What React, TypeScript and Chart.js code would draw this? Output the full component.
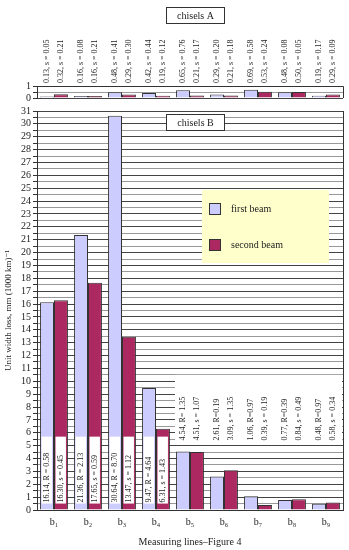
import React, { useEffect, useRef } from 'react';
import { Chart, registerables } from 'chart.js';

Chart.register(...registerables);

const categories = ['b₁', 'b₂', 'b₃', 'b₄', 'b₅', 'b₆', 'b₇', 'b₈', 'b₉'];
const chiselsAFirst = [0.13, 0.16, 0.48, 0.42, 0.65, 0.29, 0.69, 0.48, 0.19];
const chiselsAFirstS = [0.05, 0.08, 0.41, 0.44, 0.76, 0.2, 0.58, 0.08, 0.17];
const chiselsASecond = [0.32, 0.16, 0.29, 0.19, 0.21, 0.21, 0.53, 0.5, 0.29];
const chiselsASecondS = [0.21, 0.21, 0.3, 0.12, 0.17, 0.18, 0.24, 0.05, 0.09];
const chiselsBFirst = [16.14, 21.36, 30.64, 9.47, 4.54, 2.61, 1.06, 0.77, 0.48];
const chiselsBFirstR = [0.58, 2.13, 8.7, 4.64, 1.35, 0.19, 0.97, 0.39, 0.97];
const chiselsBSecond = [16.3, 17.65, 13.47, 6.31, 4.51, 3.09, 0.39, 0.84, 0.58];
const chiselsBSecondS = [0.45, 0.59, 1.12, 1.43, 1.07, 1.35, 0.19, 0.49, 0.34];
const seriesNames = ['first beam', 'second beam'];
const yMaxA = 1;
const yMaxB = 31;

const FONT = '"Liberation Serif", "DejaVu Serif", serif';
const FIRST_COLOR = '#CCCCFF';
const SECOND_COLOR = '#AC2860';
const EDGE = '#333333';

const fmt = (v: number) => v.toFixed(2);
const labelsA = [
  chiselsAFirst.map((v, i) => `${fmt(v)}, s = ${fmt(chiselsAFirstS[i])}`),
  chiselsASecond.map((v, i) => `${fmt(v)}, s = ${fmt(chiselsASecondS[i])}`),
];
const labelsB = [
  chiselsBFirst.map((v, i) => `${fmt(v)}, ${i < 4 ? 'R = ' : i === 4 ? 'R= ' : 'R='}${fmt(chiselsBFirstR[i])}`),
  chiselsBSecond.map((v, i) => `${fmt(v)}, s = ${fmt(chiselsBSecondS[i])}`),
];

function drawRotated(ctx: CanvasRenderingContext2D, text: string, x: number, y: number, size: number) {
  ctx.save();
  ctx.translate(x, y);
  ctx.rotate(-Math.PI / 2);
  ctx.font = `${size}px ${FONT}`;
  ctx.fillStyle = '#222';
  ctx.textAlign = 'left';
  ctx.textBaseline = 'middle';
  ctx.fillText(text, 0, 0);
  ctx.restore();
}

function drawBox(ctx: CanvasRenderingContext2D, text: string, x0: number, y0: number, x1: number, y1: number) {
  ctx.save();
  ctx.fillStyle = '#fff';
  ctx.fillRect(x0, y0, x1 - x0, y1 - y0);
  ctx.strokeStyle = EDGE;
  ctx.lineWidth = 1;
  ctx.strokeRect(x0 + 0.5, y0 + 0.5, x1 - x0 - 1, y1 - y0 - 1);
  ctx.fillStyle = '#222';
  ctx.font = `10px ${FONT}`;
  ctx.textAlign = 'center';
  ctx.textBaseline = 'middle';
  ctx.fillText(text, (x0 + x1) / 2, (y0 + y1) / 2 + 0.5);
  ctx.restore();
}

const gridColor = (c: any) => (c.tick && Number.isInteger(c.tick.value) ? '#444' : '#999');

const pluginA = {
  id: 'annotA',
  afterDraw(chart: any) {
    const { ctx, chartArea } = chart;
    ctx.save();
    ctx.strokeStyle = EDGE;
    ctx.lineWidth = 1;
    ctx.beginPath();
    ctx.moveTo(chartArea.left, Math.round(chartArea.top) + 0.5);
    ctx.lineTo(Math.round(chartArea.right) + 0.5, Math.round(chartArea.top) + 0.5);
    ctx.lineTo(Math.round(chartArea.right) + 0.5, chartArea.bottom);
    ctx.stroke();
    ctx.restore();
    [0, 1].forEach((d) => {
      const meta = chart.getDatasetMeta(d);
      meta.data.forEach((bar: any, j: number) => {
        drawRotated(ctx, labelsA[d][j], bar.x, 83, 8);
      });
    });
    drawBox(ctx, 'chisels A', 166, 7, 225, 24);
  },
};

const pluginB = {
  id: 'annotB',
  afterDatasetsDraw(chart: any) {
    const { ctx, chartArea, scales } = chart;
    const xs = scales.x;
    const ys = scales.y;
    const cat = xs.getPixelForValue(1) - xs.getPixelForValue(0);
    ctx.save();
    // white label area for b5..b9
    ctx.fillStyle = '#fff';
    const rx0 = xs.getPixelForValue(4) - cat / 2 + 2;
    const ry0 = ys.getPixelForValue(10.5);
    const ry1 = ys.getPixelForValue(5.1);
    ctx.fillRect(rx0, ry0, chartArea.right - 1 - rx0, ry1 - ry0);
    // white boxes inside bars b1..b4
    [0, 1].forEach((d) => {
      const meta = chart.getDatasetMeta(d);
      for (let j = 0; j < 4; j++) {
        const bar = meta.data[j];
        const y0 = ys.getPixelForValue(5.7);
        const y1 = ys.getPixelForValue(0.5);
        ctx.fillRect(bar.x - bar.width / 2 + 1.5, y0, bar.width - 3.5, y1 - y0);
      }
    });
    // right border
    ctx.strokeStyle = EDGE;
    ctx.lineWidth = 1;
    ctx.beginPath();
    ctx.moveTo(Math.round(chartArea.right) + 0.5, chartArea.top);
    ctx.lineTo(Math.round(chartArea.right) + 0.5, chartArea.bottom);
    ctx.stroke();
    ctx.restore();
    // labels
    [0, 1].forEach((d) => {
      const meta = chart.getDatasetMeta(d);
      meta.data.forEach((bar: any, j: number) => {
        const yb = j < 4 ? ys.getPixelForValue(0.5) - 1 : ys.getPixelForValue(5.4);
        drawRotated(ctx, labelsB[d][j], bar.x, yb, 8);
      });
    });
    // legend
    ctx.save();
    ctx.fillStyle = '#FFFFCC';
    ctx.fillRect(202, 190, 127, 73);
    [FIRST_COLOR, SECOND_COLOR].forEach((c, i) => {
      const sy = 203 + i * 36;
      ctx.fillStyle = c;
      ctx.fillRect(209, sy, 12, 12);
      ctx.strokeStyle = EDGE;
      ctx.strokeRect(209.5, sy + 0.5, 11, 11);
      ctx.fillStyle = '#222';
      ctx.font = `10px ${FONT}`;
      ctx.textAlign = 'left';
      ctx.textBaseline = 'middle';
      ctx.fillText(seriesNames[i], 231, sy + 6.5);
    });
    ctx.restore();
    drawBox(ctx, 'chisels B', 166, 114, 225, 131);
  },
};

function fixY(width: number) {
  return (scale: any) => {
    scale.width = width;
    scale.paddingTop = 0;
    scale.paddingBottom = 0;
  };
}

function fixX(height: number) {
  return (scale: any) => {
    scale.height = height;
    scale.paddingLeft = 0;
    scale.paddingRight = 0;
  };
}

function datasets(a: number[], b: number[]) {
  return [
    { label: seriesNames[0], data: a, backgroundColor: FIRST_COLOR, borderColor: EDGE, borderWidth: 1 },
    { label: seriesNames[1], data: b, backgroundColor: SECOND_COLOR, borderColor: EDGE, borderWidth: 1 },
  ];
}

export default function App() {
  const refA = useRef<HTMLCanvasElement>(null);
  const refB = useRef<HTMLCanvasElement>(null);

  useEffect(() => {
    const tickFont = { family: FONT, size: 10 };
    const chartB = new Chart(refB.current!, {
      type: 'bar',
      data: { labels: categories, datasets: datasets(chiselsBFirst, chiselsBSecond) as any },
      options: {
        animation: false,
        responsive: false,
        maintainAspectRatio: false,
        layout: { padding: { top: 111, right: 6, left: 0, bottom: 0 } },
        datasets: { bar: { categoryPercentage: 0.82, barPercentage: 1 } },
        plugins: { legend: { display: false }, tooltip: { enabled: false } },
        scales: {
          x: {
            grid: { display: false, drawTicks: false },
            border: { display: true, color: EDGE },
            ticks: { font: tickFont, color: '#222', padding: 6, maxRotation: 0 },
            title: { display: true, text: 'Measuring lines–Figure 4', font: tickFont, color: '#222', padding: { top: 0, bottom: 2 } },
            afterFit: fixX(40),
          },
          y: {
            min: 0,
            max: yMaxB,
            grid: { color: gridColor, drawTicks: true, tickLength: 4, tickColor: EDGE },
            border: { display: true, color: EDGE },
            ticks: {
              stepSize: 0.5,
              autoSkip: false,
              font: tickFont,
              color: '#222',
              padding: 2,
              callback: (v: any) => (Number.isInteger(v) ? String(v) : ''),
            },
            title: { display: true, text: 'Unit width loss, mm (1000 km)⁻¹', font: { family: FONT, size: 9 }, color: '#222', padding: { top: 3, bottom: 0 } },
            afterFit: fixY(37),
          },
        },
      },
      plugins: [pluginB],
    });

    const chartA = new Chart(refA.current!, {
      type: 'bar',
      data: { labels: categories, datasets: datasets(chiselsAFirst, chiselsASecond) as any },
      options: {
        animation: false,
        responsive: false,
        maintainAspectRatio: false,
        layout: { padding: { top: 86, right: 6, left: 0, bottom: 6 } },
        datasets: { bar: { categoryPercentage: 0.82, barPercentage: 1 } },
        plugins: { legend: { display: false }, tooltip: { enabled: false } },
        scales: {
          x: { display: false },
          y: {
            min: 0,
            max: yMaxA,
            grid: { color: gridColor, drawTicks: true, tickLength: 4, tickColor: EDGE },
            border: { display: true, color: EDGE },
            ticks: {
              stepSize: 0.5,
              autoSkip: false,
              font: tickFont,
              color: '#222',
              padding: 2,
              callback: (v: any) => (Number.isInteger(v) ? String(v) : ''),
            },
            afterFit: fixY(37),
          },
        },
      },
      plugins: [pluginA],
    });

    return () => {
      chartA.destroy();
      chartB.destroy();
    };
  }, []);

  return (
    <div style={{ position: 'absolute', left: 0, top: 0, width: 349, height: 550, background: '#fff' }}>
      <canvas ref={refB} width={349} height={550} style={{ position: 'absolute', left: 0, top: 0 }} />
      <canvas ref={refA} width={349} height={104} style={{ position: 'absolute', left: 0, top: 0 }} />
    </div>
  );
}
